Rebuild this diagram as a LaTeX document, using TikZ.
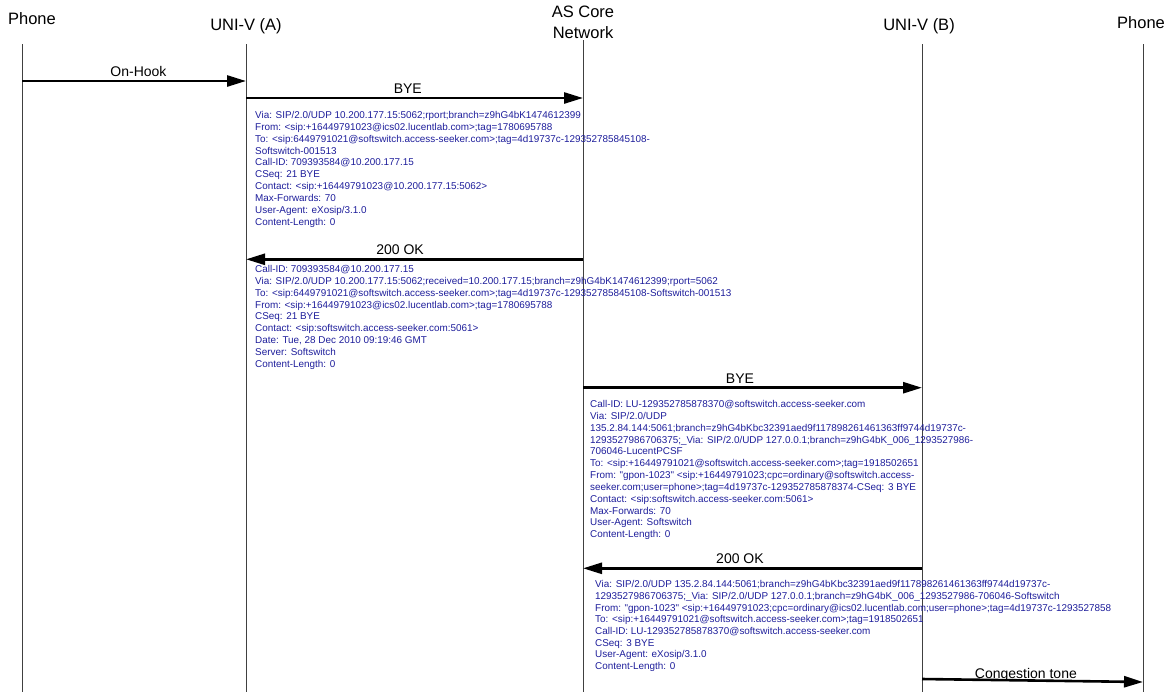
\documentclass[tikz,border=0pt]{standalone}
\usepackage{fontspec}
\setmainfont{Liberation Sans}[Ligatures=TeXOff]
\usepackage{xcolor}
\usetikzlibrary{arrows.meta}
\definecolor{sipblue}{RGB}{30,30,155}

\begin{document}
\begin{tikzpicture}[
  x=1pt, y=-1pt,
  actor/.style={font=\fontsize{16.5}{20.5}\selectfont, align=center, inner sep=0pt, anchor=base},
  lifeline/.style={draw=black!75, line width=0.9pt},
  msg/.style={line width=2.6pt, -{Triangle[length=19pt, width=11pt]}},
  msglabel/.style={font=\fontsize{14}{16}\selectfont, inner sep=0pt, anchor=base, yshift=4.5pt},
  sipdump/.style={font=\fontsize{9.9}{11.85}\selectfont, text=sipblue, align=left,
    inner sep=0pt, anchor=north west},
]
  \useasboundingbox (0,0) rectangle (1174,697);

  % Entities along the top
  \node[actor] (phA)  at (32,24)   {Phone};
  \node[actor] (uniA) at (246,30)  {UNI-V (A)};
  \node[actor, anchor=north] (core) at (583,6) {AS Core\\Network};
  \node[actor] (uniB) at (919,30)  {UNI-V (B)};
  \node[actor] (phB)  at (1141,28) {Phone};

  % Lifelines
  \foreach \n/\x/\y in {phA/22/44, uniA/246/44, core/583/40, uniB/922/44, phB/1143/44} {
    \coordinate (\n-top) at (\x,\y);
    \coordinate (\n-bot) at (\x,692);
    \draw[lifeline] (\n-top) -- (\n-bot);
  }

  % Message rows
  \coordinate (r1) at (0,81);
  \coordinate (r2) at (0,98);
  \coordinate (r3) at (0,259.3);
  \coordinate (r4) at (0,387.7);
  \coordinate (r5) at (0,568.3);
  \coordinate (r6a) at (0,679);
  \coordinate (r6b) at (0,682);

  \draw[msg] (phA-top |- r1) -- node[msglabel, pos=0.52] {On-Hook} (uniA-top |- r1);
  \draw[msg] (uniA-top |- r2) -- node[msglabel, pos=0.48] {BYE} (core-top |- r2);
  \draw[msg] (core-top |- r3) -- node[msglabel, pos=0.543] {200 OK} (uniA-top |- r3);
  \draw[msg] (core-top |- r4) -- node[msglabel, pos=0.463] {BYE} (uniB-top |- r4);
  \draw[msg] (uniB-top |- r5) -- node[msglabel, pos=0.537] {200 OK} (core-top |- r5);
  \draw[msg] (uniB-top |- r6a) -- node[msglabel, pos=0.47, yshift=-3pt] {Congestion tone} (phB-top |- r6b);

  % SIP message contents
  \node[sipdump] (bye1) at (255,111.1) {Via: SIP/2.0/UDP 10.200.177.15:5062;rport;branch=z9hG4bK1474612399\\
From: <sip:+16449791023@ics02.lucentlab.com>;tag=1780695788\\
To: <sip:6449791021@softswitch.access-seeker.com>;tag=4d19737c-129352785845108-\\
Softswitch-001513\\
Call-ID: 709393584@10.200.177.15\\
CSeq: 21 BYE\\
Contact: <sip:+16449791023@10.200.177.15:5062>\\
Max-Forwards: 70\\
User-Agent: eXosip/3.1.0\\
Content-Length: 0};

  \node[sipdump] (ok1) at (255,265.1) {Call-ID: 709393584@10.200.177.15\\
Via: SIP/2.0/UDP 10.200.177.15:5062;received=10.200.177.15;branch=z9hG4bK1474612399;rport=5062\\
To: <sip:6449791021@softswitch.access-seeker.com>;tag=4d19737c-129352785845108-Softswitch-001513\\
From: <sip:+16449791023@ics02.lucentlab.com>;tag=1780695788\\
CSeq: 21 BYE\\
Contact: <sip:softswitch.access-seeker.com:5061>\\
Date: Tue, 28 Dec 2010 09:19:46 GMT\\
Server: Softswitch\\
Content-Length: 0};

  \node[sipdump] (bye2) at (590,400.1) {Call-ID: LU-129352785878370@softswitch.access-seeker.com\\
Via: SIP/2.0/UDP\\
135.2.84.144:5061;branch=z9hG4bKbc32391aed9f117898261461363ff9744d19737c-\\
1293527986706375;\_Via: SIP/2.0/UDP 127.0.0.1;branch=z9hG4bK\_006\_1293527986-\\
706046-LucentPCSF\\
To: <sip:+16449791021@softswitch.access-seeker.com>;tag=1918502651\\
From: "gpon-1023" <sip:+16449791023;cpc=ordinary@softswitch.access-\\
seeker.com;user=phone>;tag=4d19737c-129352785878374-CSeq: 3 BYE\\
Contact: <sip:softswitch.access-seeker.com:5061>\\
Max-Forwards: 70\\
User-Agent: Softswitch\\
Content-Length: 0};

  \node[sipdump, font=\fontsize{9.9}{11.7}\selectfont] (ok2) at (595,580.3) {Via: SIP/2.0/UDP 135.2.84.144:5061;branch=z9hG4bKbc32391aed9f117898261461363ff9744d19737c-\\
1293527986706375;\_Via: SIP/2.0/UDP 127.0.0.1;branch=z9hG4bK\_006\_1293527986-706046-Softswitch\\
From: "gpon-1023" <sip:+16449791023;cpc=ordinary@ics02.lucentlab.com;user=phone>;tag=4d19737c-1293527858\\
To: <sip:+16449791021@softswitch.access-seeker.com>;tag=1918502651\\
Call-ID: LU-129352785878370@softswitch.access-seeker.com\\
CSeq: 3 BYE\\
User-Agent: eXosip/3.1.0\\
Content-Length: 0};
\end{tikzpicture}
\end{document}
